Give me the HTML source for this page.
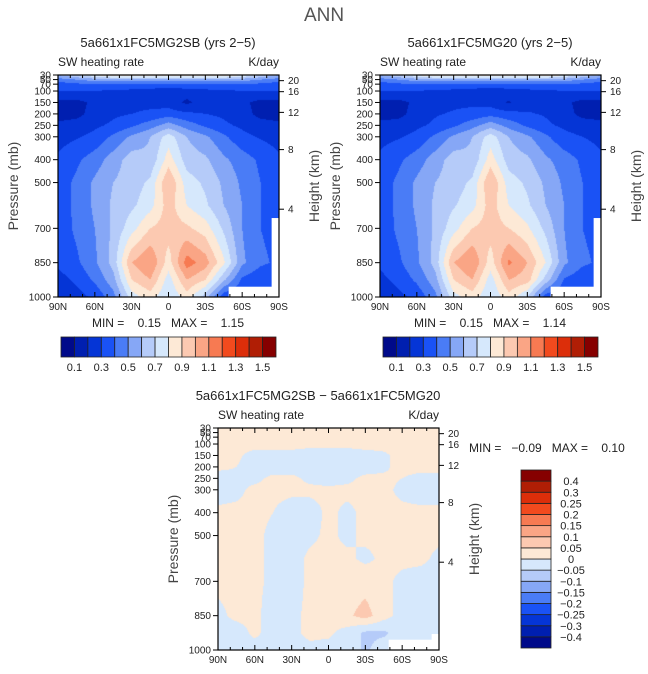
<!DOCTYPE html>
<html><head><meta charset="utf-8">
<style>
body{margin:0;background:#fff;}
#root{position:relative;width:648px;height:674px;overflow:hidden;background:#fff;font-family:"Liberation Sans",sans-serif;color:#222;}
.t{position:absolute;white-space:nowrap;line-height:1;}
svg{position:absolute;left:0;top:0;}
canvas{position:absolute;}
</style></head>
<body>
<div id="root">
<div class="t" style="left:0;width:648px;text-align:center;top:6px;font-size:19px;color:#555">ANN</div>
<canvas id="cA"></canvas>
<canvas id="cB"></canvas>
<canvas id="cC"></canvas>
<svg id="ov" width="648" height="674"></svg>
</div>
<script>
// ---- data ----
const lats = [90,75,60,45,30,15,0,-15,-30,-45,-60,-75,-90];
const levels = [30,50,70,100,150,200,250,300,400,500,600,700,850,925,1000];
const swA = [
[0.6,0.7,0.8,0.9,0.9,0.9,0.9,0.9,0.9,0.9,0.8,0.7,0.6],
[0.45,0.5,0.55,0.55,0.55,0.55,0.55,0.55,0.55,0.55,0.55,0.5,0.45],
[0.35,0.38,0.4,0.4,0.4,0.4,0.4,0.4,0.4,0.4,0.4,0.38,0.35],
[0.3,0.3,0.3,0.28,0.27,0.25,0.22,0.25,0.27,0.28,0.3,0.3,0.3],
[0.17,0.17,0.22,0.27,0.27,0.27,0.25,0.18,0.25,0.27,0.22,0.17,0.17],
[0.16,0.17,0.24,0.28,0.3,0.32,0.35,0.32,0.3,0.28,0.24,0.17,0.16],
[0.22,0.24,0.28,0.32,0.38,0.45,0.55,0.45,0.38,0.32,0.28,0.24,0.22],
[0.26,0.29,0.33,0.42,0.52,0.6,0.75,0.6,0.52,0.42,0.33,0.29,0.26],
[0.32,0.38,0.45,0.55,0.65,0.62,0.85,0.65,0.62,0.52,0.45,0.38,0.32],
[0.35,0.42,0.52,0.6,0.65,0.72,1.0,0.75,0.68,0.58,0.48,0.4,0.35],
[0.35,0.42,0.52,0.62,0.68,0.76,0.95,0.8,0.72,0.6,0.5,0.4,0.35],
[0.34,0.42,0.5,0.62,0.76,0.9,0.95,0.92,0.85,0.68,0.5,0.4,0.36],
[0.32,0.38,0.48,0.64,1.0,1.1,0.85,1.15,1.05,0.82,0.52,0.42,0.38],
[0.26,0.32,0.42,0.56,0.9,1.0,0.75,1.0,0.9,0.62,0.38,0.32,0.32],
[0.22,0.26,0.32,0.46,0.75,0.85,0.7,0.85,0.65,0.32,0.3,0.3,0.3]];
const swB = [
[0.6,0.7,0.8,0.9,0.9,0.9,0.9,0.9,0.9,0.9,0.8,0.7,0.6],
[0.45,0.5,0.55,0.55,0.55,0.55,0.55,0.55,0.55,0.55,0.55,0.5,0.45],
[0.35,0.38,0.4,0.4,0.4,0.4,0.4,0.4,0.4,0.4,0.4,0.38,0.35],
[0.3,0.3,0.3,0.28,0.27,0.25,0.22,0.25,0.27,0.28,0.3,0.3,0.3],
[0.17,0.17,0.22,0.27,0.28,0.28,0.26,0.19,0.26,0.27,0.22,0.17,0.17],
[0.16,0.17,0.24,0.29,0.31,0.33,0.36,0.33,0.31,0.29,0.24,0.17,0.16],
[0.23,0.24,0.28,0.32,0.38,0.46,0.56,0.46,0.38,0.32,0.28,0.25,0.23],
[0.27,0.29,0.33,0.42,0.52,0.6,0.75,0.6,0.52,0.42,0.33,0.3,0.27],
[0.32,0.38,0.45,0.55,0.65,0.62,0.85,0.65,0.62,0.52,0.45,0.38,0.32],
[0.35,0.42,0.52,0.6,0.65,0.72,1.0,0.75,0.68,0.58,0.48,0.4,0.35],
[0.35,0.42,0.52,0.62,0.69,0.76,0.95,0.8,0.72,0.6,0.5,0.4,0.35],
[0.34,0.42,0.5,0.62,0.76,0.9,0.95,0.9,0.82,0.67,0.5,0.4,0.36],
[0.32,0.38,0.48,0.64,1.0,1.1,0.85,1.12,1.0,0.8,0.52,0.42,0.38],
[0.27,0.33,0.42,0.56,0.9,1.0,0.75,1.0,0.95,0.66,0.39,0.33,0.33],
[0.23,0.27,0.33,0.47,0.76,0.85,0.71,0.86,0.7,0.34,0.31,0.31,0.31]];
const swDiff = [
[0.02,0.02,0.02,0.02,0.02,0.02,0.02,0.02,0.02,0.02,0.02,0.02,0.02],
[0.02,0.02,0.02,0.02,0.02,0.02,0.02,0.02,0.02,0.02,0.02,0.02,0.02],
[0.02,0.02,0.02,0.02,0.02,0.02,0.02,0.02,0.02,0.02,0.02,0.02,0.02],
[0.02,0.02,0.02,0.02,0.02,0.01,0.01,0.01,0.02,0.02,0.02,0.02,0.02],
[0.02,0.01,-0.02,-0.02,-0.02,-0.02,-0.02,-0.02,-0.02,-0.01,0.02,0.02,0.02],
[0.01,0.0,-0.02,-0.02,-0.02,-0.02,-0.02,-0.02,-0.02,-0.01,0.02,0.02,0.02],
[-0.02,-0.01,-0.01,0.01,0.01,-0.01,-0.02,-0.01,0.01,0.01,0.0,-0.02,-0.02],
[-0.02,-0.01,0.01,0.01,0.01,0.01,0.01,0.01,0.01,0.01,-0.01,-0.02,-0.02],
[0.01,0.01,0.01,0.0,-0.02,-0.02,0.01,-0.01,0.01,0.01,0.01,0.01,0.01],
[0.01,0.01,0.01,-0.01,-0.02,-0.01,0.01,-0.01,0.01,0.01,0.01,0.01,0.01],
[0.01,0.01,0.01,-0.01,-0.02,0.01,0.01,0.01,-0.01,0.01,0.01,0.01,-0.01],
[0.01,0.01,0.01,-0.01,-0.02,0.01,0.01,0.02,0.03,0.01,-0.01,-0.02,-0.02],
[-0.01,0.01,0.01,-0.02,-0.01,0.01,0.01,0.04,0.07,0.02,-0.02,-0.02,-0.02],
[-0.02,-0.02,0.01,-0.02,-0.01,0.01,0.01,-0.02,-0.06,-0.06,-0.02,-0.02,-0.02],
[-0.02,-0.02,-0.02,-0.02,-0.02,-0.01,-0.02,-0.02,-0.06,-0.02,-0.02,-0.02,-0.02]];
// missing-data boxes [latFrom, latTo, pTop, pBottom]
const missingBoxes = [[-49,-90,955,1000],[-84,-90,655,1000]];
const missingDiff = [[-49,-90,955,1000],[-84,-90,930,1000]];
const levA = [0.1,0.2,0.3,0.4,0.5,0.6,0.7,0.8,0.9,1.0,1.1,1.2,1.3,1.4,1.5];
const levD = [-0.4,-0.3,-0.25,-0.2,-0.15,-0.1,-0.05,0,0.05,0.1,0.15,0.2,0.25,0.3,0.4];
const cbLabelsA = ["0.1","0.3","0.5","0.7","0.9","1.1","1.3","1.5"];
const cbLabelsD = ["0.4","0.3","0.25","0.2","0.15","0.1","0.05","0","\u22120.05","\u22120.1","\u22120.15","\u22120.2","\u22120.25","\u22120.3","\u22120.4"];
const pTicks = [30,50,70,100,150,200,250,300,400,500,700,850,1000];
const pLabels = ["30","50","70","100","150","200","250","300","400","500","700","850","1000"];
const zTicks = [4,8,12,16,20];
const latTicks = [90,60,30,0,-30,-60,-90];
const latLabels = ["90N","60N","30N","0","30S","60S","90S"];
const colors = ["#000a8a","#001fb0","#0535d6","#1a52f5","#4a7cf6","#86a7f6","#b5cbf9","#d6e8fc","#fde9d6","#fcc9b1","#faa585","#f77a52","#f24a1e","#dc2e0a","#b01e05","#860000"];

// ---- helpers ----
const NS="http://www.w3.org/2000/svg";
const ov=document.getElementById('ov');
function mk(tag,attrs,parent){const e=document.createElementNS(NS,tag);for(const k in attrs)e.setAttribute(k,attrs[k]);(parent||ov).appendChild(e);return e;}
function txt(x,y,s,size,anchor,name,parent){const e=mk('text',{x:x,y:y,'font-size':size,'text-anchor':anchor||'start','font-family':'Liberation Sans, sans-serif',fill:'#222'},parent);e.textContent=s;return e;}
function zToP(z){const m=z*1000;if(m<=11000)return 1013.25*Math.pow(1-2.25577e-5*m,5.25588);return 226.32*Math.exp(-(m-11000)/6341.6);}
function interp(grid,lat,p){
  let ci=(90-lat)/15;ci=Math.max(0,Math.min(lats.length-1.0001,ci));const c0=Math.floor(ci),fc=ci-c0;
  let r0=0;while(r0<levels.length-2&&levels[r0+1]<p)r0++;
  let fr=(p-levels[r0])/(levels[r0+1]-levels[r0]);fr=Math.max(0,Math.min(1,fr));
  const a=grid[r0][c0],b=grid[r0][c0+1],c=grid[r0+1][c0],d=grid[r0+1][c0+1];
  return (a*(1-fc)+b*fc)*(1-fr)+(c*(1-fc)+d*fc)*fr;}
function bin(v,lev){let i=0;while(i<lev.length&&v>=lev[i])i++;return i;}
function hex(h){return [parseInt(h.substr(1,2),16),parseInt(h.substr(3,2),16),parseInt(h.substr(5,2),16)];}
const rgb=colors.map(hex);

function panel(cid,grid,lev,miss,X0,Y0,W,H,prefix){
  const xOf=lat=>X0+(90-lat)/180*W;
  const yOf=p=>Y0+(p-30)/970*H;
  const cv=document.getElementById(cid);cv.width=W;cv.height=H;cv.style.left=X0+'px';cv.style.top=Y0+'px';
  const ctx=cv.getContext('2d');const img=ctx.createImageData(W,H);
  for(let j=0;j<H;j++){const p=30+(j+0.5)/H*970;
    for(let i=0;i<W;i++){const lat=90-(i+0.5)/W*180;
      const v=interp(grid,lat,p);const col=rgb[bin(v,lev)];const k=(j*W+i)*4;
      img.data[k]=col[0];img.data[k+1]=col[1];img.data[k+2]=col[2];img.data[k+3]=255;}}
  ctx.putImageData(img,0,0);
  const g=mk('g',{});
  miss.forEach(m=>{const r=mk('rect',{x:xOf(m[0]),y:yOf(m[2]),width:xOf(m[1])-xOf(m[0]),height:yOf(m[3])-yOf(m[2]),fill:'#fff'},g);
    });
  const fr=mk('rect',{x:X0,y:Y0,width:W,height:H,fill:'none',stroke:'#000','stroke-width':1.2},g);
  
  for(let l=90;l>=-90;l-=10){const x=xOf(l);const big=l%30===0;const L=big?5:3;
    mk('line',{x1:x,x2:x,y1:Y0+H,y2:Y0+H-L,stroke:'#000','stroke-width':1},g);
    mk('line',{x1:x,x2:x,y1:Y0,y2:Y0+L,stroke:'#000','stroke-width':1},g);}
  latTicks.forEach((l,i)=>txt(xOf(l),Y0+H+13,latLabels[i],10,'middle',prefix+'-lat-label',g));
  pTicks.forEach((p,i)=>{const y=yOf(p);mk('line',{x1:X0,x2:X0-5,y1:y,y2:y,stroke:'#000','stroke-width':1},g);
    txt(X0-7,y+3.5,pLabels[i],10,'end',prefix+'-pressure-label',g);});
  zTicks.forEach(z=>{const y=yOf(zToP(z));mk('line',{x1:X0+W,x2:X0+W+5,y1:y,y2:y,stroke:'#000','stroke-width':1},g);
    txt(X0+W+9,y+3.5,String(z),10,'start',prefix+'-height-label',g);});
  const yl=txt(0,0,'Pressure (mb)',14,'middle',prefix+'-y-axis-title',g);yl.setAttribute('transform',`translate(${X0-40},${Y0+H/2}) rotate(-90)`);yl.setAttribute('fill','#444');
  const yr=txt(0,0,'Height (km)',14,'middle',prefix+'-right-axis-title',g);yr.setAttribute('transform',`translate(${X0+W+40},${Y0+H/2}) rotate(-90)`);yr.setAttribute('fill','#444');
  txt(X0,Y0-9,'SW heating rate',12,'start',prefix+'-variable-label',g);
  txt(X0+W,Y0-9,'K/day',12,'end',prefix+'-units-label',g);
}
function hbar(x,y,w,h,prefix,labels){
  const g=mk('g',{});
  const n=colors.length,bw=w/n;
  colors.forEach((c,i)=>{const r=mk('rect',{x:x+i*bw,y:y,width:bw,height:h,fill:c,stroke:'#222','stroke-width':0.8},g);
    });
  labels.forEach((s,i)=>txt(x+(1+2*i)*bw,y+h+14,s,11,'middle',prefix+'-colorbar-label',g));
}
function vbar(x,y,w,h,prefix,labels){
  const g=mk('g',{});
  const n=colors.length,bh=h/n;
  colors.forEach((c,i)=>{const r=mk('rect',{x:x,y:y+h-(i+1)*bh,width:w,height:bh,fill:c,stroke:'#222','stroke-width':0.8},g);
    });
  labels.forEach((s,i)=>txt(x+w+20,y+(i+1)*bh+4,s,11,'middle',prefix+'-colorbar-label',g));
}
// ---- draw ----
panel('cA',swA,levA,missingBoxes,58,75,221,222,'panel-a');
panel('cB',swB,levA,missingBoxes,380,75,221,222,'panel-b');
panel('cC',swDiff,levD,missingDiff,218,428,221,222,'diff');
txt(168,47,'5a661x1FC5MG2SB (yrs 2\u22125)',13,'middle','panel-a-title');
txt(490,47,'5a661x1FC5MG20 (yrs 2\u22125)',13,'middle','panel-b-title');
txt(318,400,'5a661x1FC5MG2SB \u2212 5a661x1FC5MG20',13,'middle','diff-title');
txt(168,327,'MIN =    0.15   MAX =    1.15',12,'middle','panel-a-minmax');
txt(490,327,'MIN =    0.15   MAX =    1.14',12,'middle','panel-b-minmax');
txt(469,452,'MIN =   \u22120.09   MAX =    0.10',12,'start','diff-minmax');
document.querySelectorAll('text').forEach(t=>t.style.whiteSpace='pre');
hbar(61,337,215,20,'panel-a',cbLabelsA);
hbar(383,337,215,20,'panel-b',cbLabelsA);
vbar(521,470,30,178,'diff',cbLabelsD);
</script>
</body></html>
